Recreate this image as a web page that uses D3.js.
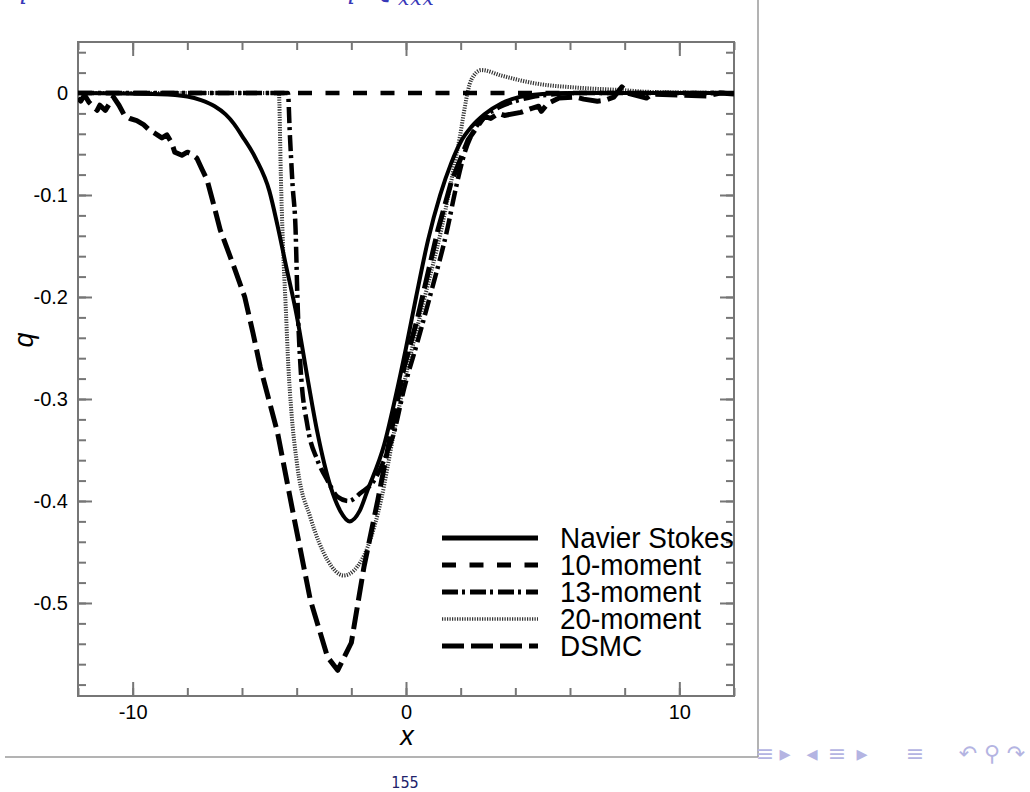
<!DOCTYPE html>
<meta charset="utf-8">
<script src="https://d3js.org/d3.v7.min.js"></script>
<style>
  body { margin: 0; background: #fff; }
</style>
<div id="my_dataviz"></div>
<script>

// series names (legend order)
var seriesNames = ["Navier Stokes", "10-moment", "13-moment", "20-moment", "DSMC"];

// Navier Stokes
var nsX = [-12, -9, -8, -7.5, -7, -6.6, -6.3, -6, -5.5, -5, -4.7, -4.4, -4, -3.6, -3.24, -2.76, -2.4, -2.06, -1.7, -1.4, -0.8, -0.4, 0, 0.37, 0.8, 1.25, 1.65, 2, 2.4, 2.87, 3.5, 4, 5, 6, 12];
var nsQ = [0, -0.0012, -0.0035, -0.007, -0.013, -0.021, -0.03, -0.042, -0.064, -0.096, -0.13, -0.168, -0.218, -0.28, -0.333, -0.386, -0.41, -0.42, -0.41, -0.389, -0.345, -0.3, -0.25, -0.2, -0.145, -0.1, -0.069, -0.048, -0.033, -0.021, -0.01, -0.005, -0.001, 0, 0];

// 10-moment
var m10X = [-12, 12];
var m10Q = [0, 0];

// 13-moment
var m13X = [-12, -4.32, -4.25, -4.15, -4.04, -3.97, -3.86, -3.6, -3.24, -2.87, -2.5, -2.1, -1.65, -1.17, -0.8, -0.44, -0.07, 0.43, 0.92, 1.54, 1.77, 2.13, 2.5, 2.9, 3.4, 4, 4.6, 5.5, 6.5, 12];
var m13Q = [0, 0, -0.04, -0.09, -0.134, -0.203, -0.268, -0.327, -0.36, -0.38, -0.396, -0.4, -0.392, -0.38, -0.36, -0.333, -0.29, -0.243, -0.195, -0.13, -0.1, -0.06, -0.036, -0.023, -0.014, -0.008, -0.004, -0.001, 0, 0];

// 20-moment
var m20X = [-12, -4.65, -4.58, -4.5, -4.4, -4.3, -4.2, -3.97, -3.5, -2.87, -2.28, -1.9, -1.4, -0.92, -0.44, 0.07, 0.66, 1.29, 1.9, 2.39, 2.76, 3.5, 4.6, 6.4, 7.8, 9, 12];
var m20Q = [0, 0, -0.08, -0.15, -0.21, -0.27, -0.31, -0.367, -0.416, -0.458, -0.473, -0.468, -0.445, -0.4, -0.333, -0.268, -0.203, -0.134, -0.053, 0.013, 0.0225, 0.017, 0.01, 0.005, 0.003, 0.001, 0];

// DSMC
var dsX = [-12, -11.9, -11.76, -11.6, -11.3, -11.2, -11.0, -10.7, -10.5, -10.3, -10.1, -9.85, -9.6, -9.4, -9.1, -8.93, -8.75, -8.57, -8.46, -8.2, -8.0, -7.83, -7.65, -7.46, -7.28, -7.05, -6.8, -6.3, -5.9, -5.6, -5.33, -4.7, -4.1, -3.5, -2.87, -2.5, -2.0, -1.54, -1.03, -0.55, -0.07, 0.43, 1.17, 1.65, 2.27, 2.87, 3.1, 3.38, 3.6, 4.2, 4.6, 4.85, 4.95, 5.2, 5.6, 6.2, 6.5, 7.0, 7.3, 7.6, 7.9, 8.1, 8.8, 9.0, 10, 11, 11.5, 12];
var dsQ = [-0.005, -0.008, -0.002, -0.009, -0.017, -0.012, -0.017, -0.004, -0.012, -0.022, -0.025, -0.027, -0.031, -0.036, -0.041, -0.044, -0.041, -0.049, -0.058, -0.061, -0.058, -0.06, -0.064, -0.075, -0.085, -0.108, -0.134, -0.17, -0.2, -0.235, -0.269, -0.333, -0.416, -0.497, -0.553, -0.566, -0.539, -0.465, -0.399, -0.333, -0.269, -0.22, -0.134, -0.088, -0.046, -0.023, -0.025, -0.02, -0.022, -0.019, -0.015, -0.013, -0.018, -0.01, -0.005, -0.004, -0.006, -0.008, -0.007, -0.004, 0.006, 0, -0.005, -0.001, -0.002, -0.003, 0, -0.001];

// tick labels
var xTickValues = [-10, 0, 10];
var xTickLabels = ["-10", "0", "10"];
var yTickValues = [0, -0.1, -0.2, -0.3, -0.4, -0.5];
var yTickLabels = ["0", "-0.1", "-0.2", "-0.3", "-0.4", "-0.5"];

// set the dimensions of the page and plot box
var pageW = 1030, pageH = 792;
var box = {left: 78, right: 734, top: 42, bottom: 696};

var svg = d3.select("#my_dataviz")
  .append("svg")
    .attr("width", pageW)
    .attr("height", pageH)
    .style("display", "block");

// scales
var x = d3.scaleLinear().domain([-12, 12]).range([box.left, box.right]);
var y = d3.scaleLinear().domain([-0.5912, 0.05]).range([box.bottom, box.top]);

// clip for curves
svg.append("clipPath").attr("id", "plotclip")
  .append("rect")
    .attr("x", box.left).attr("y", box.top)
    .attr("width", box.right - box.left).attr("height", box.bottom - box.top);

var axisCol = "#767676";

// minor + major ticks on all four sides (inward)
function styleAxis(g) {
  g.select(".domain").remove();
  g.selectAll(".tick line").attr("stroke", axisCol).attr("stroke-width", 2);
  g.selectAll(".tick text")
    .attr("fill", "#000")
    .style("font-family", "'Liberation Sans', Arial, sans-serif")
    .style("font-size", "20px");
}

var xMinor = d3.range(-12, 12.01, 2);
var yMinor = d3.range(-58, 5, 2).map(function(d) { return d / 100; });

svg.append("g").attr("transform", "translate(0," + box.bottom + ")")
  .call(d3.axisBottom(x).tickValues(xMinor).tickSize(-8).tickFormat(""))
  .call(styleAxis);
svg.append("g").attr("transform", "translate(0," + box.bottom + ")")
  .call(d3.axisBottom(x).tickValues(xTickValues).tickSize(-14).tickPadding(9)
    .tickFormat(function(d, i) { return xTickLabels[i]; }))
  .call(styleAxis);
svg.append("g").attr("transform", "translate(0," + box.top + ")")
  .call(d3.axisTop(x).tickValues(xMinor).tickSize(-8).tickFormat(""))
  .call(styleAxis);
svg.append("g").attr("transform", "translate(0," + box.top + ")")
  .call(d3.axisTop(x).tickValues(xTickValues).tickSize(-14).tickFormat(""))
  .call(styleAxis);

svg.append("g").attr("transform", "translate(" + box.left + ",0)")
  .call(d3.axisLeft(y).tickValues(yMinor).tickSize(-8).tickFormat(""))
  .call(styleAxis);
svg.append("g").attr("transform", "translate(" + box.left + ",0)")
  .call(d3.axisLeft(y).tickValues(yTickValues).tickSize(-14).tickPadding(10)
    .tickFormat(function(d, i) { return yTickLabels[i]; }))
  .call(styleAxis);
svg.append("g").attr("transform", "translate(" + box.right + ",0)")
  .call(d3.axisRight(y).tickValues(yMinor).tickSize(-8).tickFormat(""))
  .call(styleAxis);
svg.append("g").attr("transform", "translate(" + box.right + ",0)")
  .call(d3.axisRight(y).tickValues(yTickValues).tickSize(-14).tickFormat(""))
  .call(styleAxis);

// frame
svg.append("rect")
  .attr("x", box.left).attr("y", box.top)
  .attr("width", box.right - box.left).attr("height", box.bottom - box.top)
  .attr("fill", "none").attr("stroke", axisCol).attr("stroke-width", 2);

// line styles
var styles = [
  {width: 4, dash: null, color: "#000"},
  {width: 4.5, dash: "14,13.5", color: "#000"},
  {width: 4.5, dash: "16,4,3,5", color: "#000"},
  {width: 4, dash: "1.2,1.3", color: "#333"},
  {width: 5, dash: "22,7", color: "#000"}
];

var series = [
  {xs: nsX, qs: nsQ, curve: d3.curveMonotoneX},
  {xs: m10X, qs: m10Q, curve: d3.curveLinear},
  {xs: m13X, qs: m13Q, curve: d3.curveMonotoneX},
  {xs: m20X, qs: m20Q, curve: d3.curveMonotoneX},
  {xs: dsX, qs: dsQ, curve: d3.curveLinear}
];

var curves = svg.append("g").attr("clip-path", "url(#plotclip)");

// draw order: 20-moment under the others
[3, 4, 1, 2, 0].forEach(function(i) {
  var s = series[i], st = styles[i];
  var pts = s.xs.map(function(v, k) { return [v, s.qs[k]]; });
  var line = d3.line()
    .x(function(d) { return x(d[0]); })
    .y(function(d) { return y(d[1]); })
    .curve(s.curve);
  curves.append("path")
    .datum(pts)
    .attr("d", line)
    .attr("fill", "none")
    .attr("stroke", st.color)
    .attr("stroke-width", st.width)
    .attr("stroke-dasharray", st.dash)
    .attr("stroke-linejoin", "round");
});

// legend
var leg = svg.append("g");
seriesNames.forEach(function(name, i) {
  var ly = 538 + i * 27;
  var st = styles[i];
  leg.append("line")
    .attr("x1", 442).attr("x2", 538)
    .attr("y1", ly).attr("y2", ly)
    .attr("stroke", st.color)
    .attr("stroke-width", i == 3 ? 3.5 : 5)
    .attr("stroke-dasharray", st.dash);
  leg.append("text")
    .attr("transform", "translate(560," + (ly + 10) + ") scale(0.93,1)")
    .style("font-family", "'Liberation Sans', Arial, sans-serif")
    .style("font-size", "30px")
    .text(name);
});

// axis titles
svg.append("text")
  .attr("x", (box.left + box.right) / 2 + 1)
  .attr("y", 745)
  .attr("text-anchor", "middle")
  .style("font-family", "'Liberation Sans', Arial, sans-serif")
  .style("font-style", "italic")
  .style("font-size", "27px")
  .text("x");

svg.append("text")
  .attr("transform", "translate(33,340) rotate(-90)")
  .attr("text-anchor", "middle")
  .style("font-family", "'Liberation Sans', Arial, sans-serif")
  .style("font-style", "italic")
  .style("font-size", "27px")
  .text("q");

// slide frame pieces
svg.append("line")
  .attr("x1", 758).attr("x2", 758).attr("y1", 0).attr("y2", 757)
  .attr("stroke", "#9a9a9a").attr("stroke-width", 1.5);
svg.append("line")
  .attr("x1", 5).attr("x2", 758).attr("y1", 757).attr("y2", 757)
  .attr("stroke", "#9a9a9a").attr("stroke-width", 1.5);

// cut-off slide heading
var head = svg.append("g")
  .attr("fill", "#3838b8")
  .style("font-family", "'DejaVu Serif', serif")
  .style("font-style", "italic");
head.append("text").attr("x", 12).attr("y", -1).style("font-size", "24px").text("q");
head.append("text").attr("x", 340).attr("y", -1).style("font-size", "24px").text("q");
head.append("text").attr("x", 372).attr("y", -1).style("font-size", "24px").text("Q");
head.append("text").attr("x", 398).attr("y", 5).style("font-size", "20px")
  .attr("letter-spacing", "1px").text("xxx");

// page number
svg.append("text")
  .attr("x", 405).attr("y", 788)
  .attr("text-anchor", "middle")
  .attr("fill", "#22226a")
  .style("font-family", "'DejaVu Sans', sans-serif")
  .style("font-stretch", "condensed")
  .style("font-size", "16px")
  .text("155");

// navigation symbols
var nav = svg.append("g")
  .attr("fill", "#b4b4e2")
  .style("font-family", "'DejaVu Sans', sans-serif")
  .style("font-size", "22px")
  .attr("text-anchor", "middle");
var navGlyphs = [["≡", 765], ["▸", 785], ["◂", 812], ["≡", 837], ["▸", 862], ["≡", 915], ["↶", 968], ["⚲", 992], ["↷", 1016]];
navGlyphs.forEach(function(g) {
  nav.append("text").attr("x", g[1]).attr("y", 761).text(g[0]);
});

</script>
